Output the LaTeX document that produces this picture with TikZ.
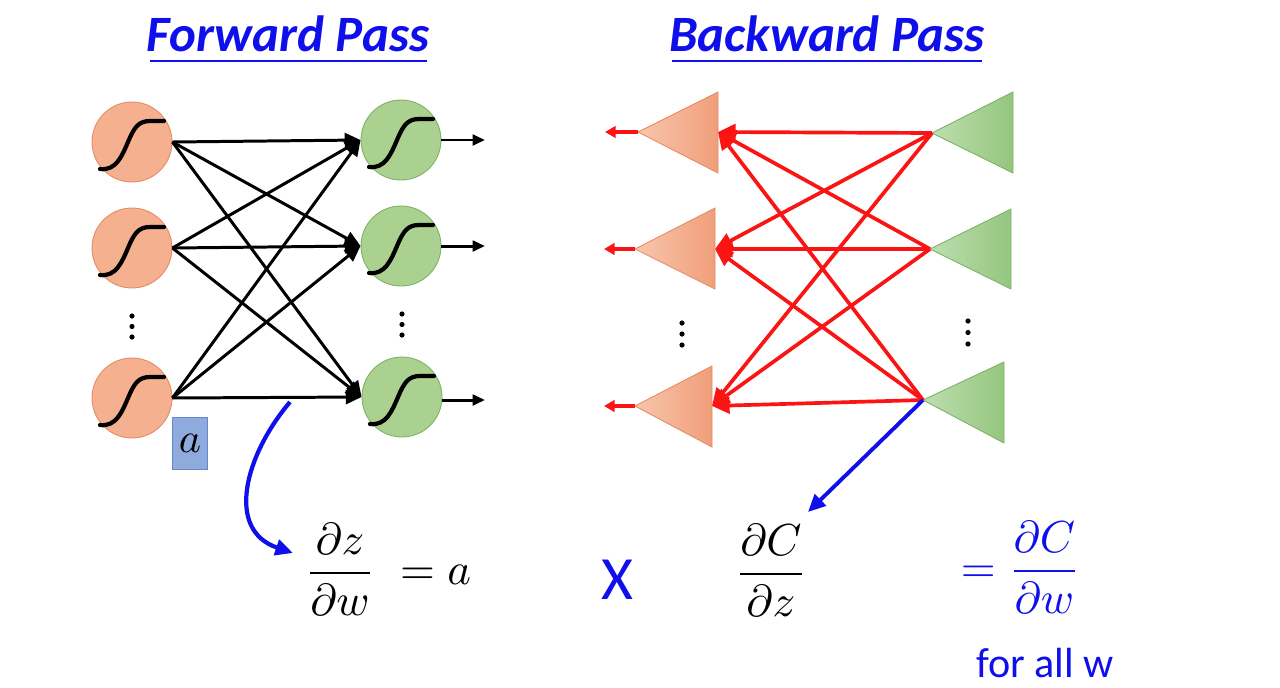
\documentclass[tikz,border=0pt]{standalone}
\usepackage{amsmath}
\usepackage{fontspec}
\newfontfamily\carl{Carlito}
\usetikzlibrary{arrows.meta}
\definecolor{myblue}{RGB}{15,15,235}
\definecolor{orfill}{RGB}{245,176,143}
\definecolor{ordraw}{RGB}{228,140,100}
\definecolor{grfill}{RGB}{170,209,144}
\definecolor{grdraw}{RGB}{125,178,100}
\definecolor{orL}{RGB}{248,198,172}
\definecolor{orR}{RGB}{240,158,122}
\definecolor{grL}{RGB}{190,222,176}
\definecolor{grR}{RGB}{148,198,126}
\definecolor{myred}{RGB}{250,20,20}
\definecolor{boxfill}{RGB}{143,170,220}
\definecolor{boxdraw}{RGB}{100,135,205}
\tikzset{
  lcirc/.style={circle,minimum size=1.6cm,inner sep=0pt,fill=orfill,draw=ordraw,line width=0.5pt},
  rcirc/.style={circle,minimum size=1.6cm,inner sep=0pt,fill=grfill,draw=grdraw,line width=0.5pt},
  sig/.pic={\draw[line width=2.4pt,line cap=round,line join=round] (-32,27) .. controls (-16,29) and (-10,14) .. (-4,0) .. controls (2,-14) and (6,-21) .. (18,-21) -- (32,-21);},
  fw/.style={line width=1.7pt,-{Triangle[length=9pt,width=8pt]}},
  outarr/.style={line width=1.7pt,-{Triangle[length=7pt,width=6pt]}},
  bw/.style={myred,line width=2.1pt,-{Triangle[length=10pt,width=9pt]}},
  bwout/.style={myred,line width=2.2pt,-{Triangle[length=6pt,width=6.5pt]}},
  bluearr/.style={myblue,line width=2.4pt,-{Triangle[length=10pt,width=9pt]}},
  otri/.style={left color=orL,right color=orR,draw=ordraw,line width=0.5pt},
  gtri/.style={left color=grL,right color=grR,draw=grdraw,line width=0.5pt},
  title/.style={font=\carl\bfseries\itshape\fontsize{29}{34}\selectfont,text=myblue,inner sep=0pt},
  mathnode/.style={inner sep=0pt,scale=2.55}
}
\begin{document}
\begin{tikzpicture}[x=0.02cm,y=-0.02cm]
\useasboundingbox (0,0) rectangle (1280,687);
% titles
\node[title] (t1) at (288,34) {Forward Pass};
\node[title] (t2) at (827,34) {Backward Pass};
\draw[myblue,line width=1.6pt] (150,61) -- (427,61);
\draw[myblue,line width=1.6pt] (672,61) -- (982,61);
% forward nodes
\node[lcirc] (l1) at (132,142) {};
\node[lcirc] (l2) at (132,248) {};
\node[lcirc] (l3) at (132,398) {};
\node[rcirc] (r1) at (401,140) {};
\node[rcirc] (r2) at (401,246) {};
\node[rcirc] (r3) at (402,397) {};
\foreach \n in {l1,l2,l3,r1,r2,r3} \pic at (\n) {sig};
\foreach \s in {l1,l2,l3} \foreach \t in {r1,r2,r3} \draw[fw] (\s.east) -- (\t.west);
\coordinate (o1) at (485,140);
\coordinate (o2) at (485,246);
\coordinate (o3) at (485,400);
\draw[outarr] (r1.east) -- (o1);
\draw[outarr] (r2.east) -- (o2);
\draw[outarr] (r3.east |- o3) -- (o3);
\foreach \y in {316,326.5,337} \fill (132,\y) circle (2.6);
\foreach \y in {314,324.5,335} \fill (402,\y) circle (2.6);
% a box
\node[draw=boxdraw,fill=boxfill,minimum width=0.7cm,minimum height=1.04cm,inner sep=0pt,line width=0.5pt] (abox) at (190,443.5) {\scalebox{2.4}{$a$}};
% formulas
\node[mathnode,anchor=west] (f1) at (304,569) {$\displaystyle\frac{\partial z}{\partial w}\;=a$};
\node[inner sep=0pt,font=\carl\fontsize{35}{40}\selectfont,text=myblue] (X) at (617,580) {X};
\node[mathnode] (f2) at (771,570) {$\displaystyle\frac{\partial C}{\partial z}$};
\node[mathnode,anchor=west,text=myblue] (f3) at (960,567) {$\displaystyle=\frac{\partial C}{\partial w}$};
\node[inner sep=0pt,font=\carl\fontsize{24}{28}\selectfont,text=myblue] (fa) at (1045,663) {for all w};
% blue arrows
\coordinate (tap) at (290,402);
\coordinate (fz) at (293,553);
\draw[bluearr] (tap) .. controls (245,455) and (225,530) .. (fz);
% backward triangles
\coordinate (oa1) at (638,132); \coordinate (ob1) at (718,132);
\coordinate (oa2) at (635,249); \coordinate (ob2) at (715,249);
\coordinate (oa3) at (635,406); \coordinate (ob3) at (712,406);
\path[otri] (oa1) -- (718,92) -- (718,173) -- cycle;
\path[otri] (oa2) -- (715,208) -- (715,289) -- cycle;
\path[otri] (oa3) -- (712,366) -- (712,447) -- cycle;
\coordinate (ga1) at (932,133);
\coordinate (ga2) at (930,249);
\coordinate (ga3) at (923,400);
\path[gtri] (ga1) -- (1013,92) -- (1013,173) -- cycle;
\path[gtri] (ga2) -- (1011,209) -- (1011,289) -- cycle;
\path[gtri] (ga3) -- (1004,362) -- (1004,443) -- cycle;
\foreach \s in {ga1,ga2,ga3} \foreach \t in {ob1,ob2,ob3} \draw[bw] (\s) -- (\t);
\coordinate (x1) at (605,132);
\coordinate (x2) at (604,249);
\coordinate (x3) at (604,406);
\draw[bwout] (oa1) -- (x1);
\draw[bwout] (oa2) -- (x2);
\draw[bwout] (oa3) -- (x3);
\foreach \y in {323,334,345} \fill (682,\y) circle (2.6);
\foreach \y in {321,332.5,344} \fill (968,\y) circle (2.6);
\coordinate (dc) at (808,512);
\draw[bluearr,line width=2.2pt] (ga3) -- (dc);
\end{tikzpicture}
\end{document}
